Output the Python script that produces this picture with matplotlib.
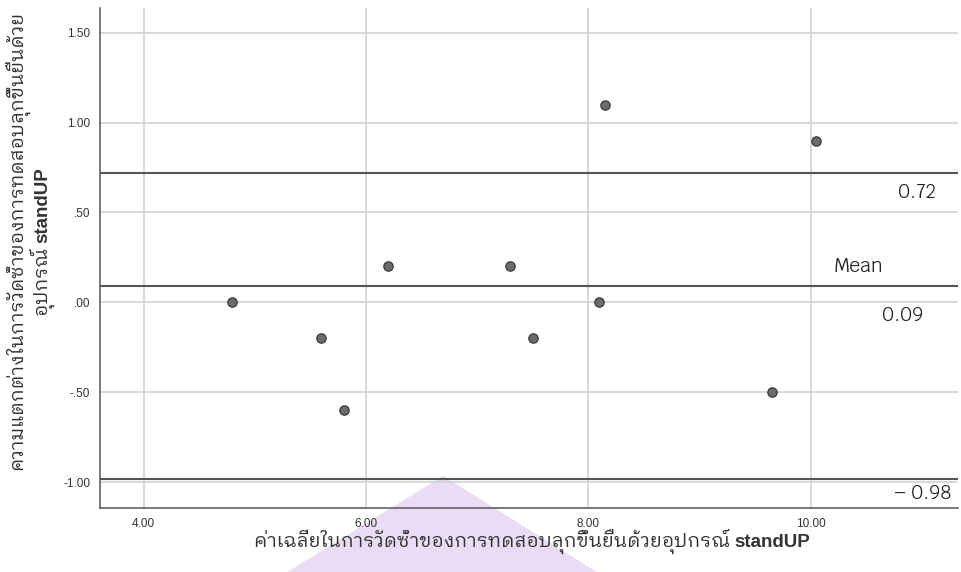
import matplotlib
matplotlib.use("Agg")
import matplotlib.pyplot as plt
from matplotlib.patches import Polygon

# Bland-Altman data
mean_vals = [4.80, 5.60, 5.80, 6.20, 7.30, 7.50, 8.10, 8.15, 10.05, 9.65]
diff_vals = [0.00, -0.20, -0.60, 0.20, 0.20, -0.20, 0.00, 1.10, 0.90, -0.50]
mean_diff = 0.09
upper_loa = 0.72
lower_loa = -0.98

x_ticks = [4, 6, 8, 10]
y_ticks = [-1.0, -0.5, 0.0, 0.5, 1.0, 1.5]
y_ticklabels = ["-1.00", "-.50", ".00", ".50", "1.00", "1.50"]

x_label_th = "ค่าเฉลี่ยในการวัดซ้ำของการทดสอบลุกขึ้นยืนด้วยอุปกรณ์ "
y_label_th1 = "ความแตกต่างในการวัดซ้ำของการทดสอบลุกขึ้นยืนด้วย"
y_label_th2 = "อุปกรณ์ "
bold_part = "standUP"

thai_font = ["IBM Plex Sans Thai Looped", "DejaVu Sans"]
note_font = ["Krub", "DejaVu Sans"]

fig = plt.figure(figsize=(9.61, 5.72), dpi=100)
ax = fig.add_axes([0.1041, 0.1119, 0.8928, 0.8741])
ax.set_facecolor("none")

# faint watermark of the source document
wm = Polygon([(0.299, 0.0), (0.461, 0.168), (0.621, 0.0)], closed=True,
             transform=fig.transFigure, facecolor="#e9dcf4", edgecolor="none", zorder=-5)
fig.patches.append(wm)

ax.grid(True, color="#d2d2d2", linewidth=1.2)
ax.set_axisbelow(True)

for v in [upper_loa, mean_diff, lower_loa]:
    ax.axhline(v, color="#555555", linewidth=1.5, zorder=2)

ax.scatter(mean_vals, diff_vals, s=45, facecolor="#6b6b6b", edgecolor="#3a3a3a",
           linewidth=0.9, zorder=3)

ax.set_xlim(3.609, 11.325)
ax.set_ylim(-1.143, 1.637)
ax.set_xticks(x_ticks)
ax.set_xticklabels(["%.2f" % t for t in x_ticks])
ax.set_yticks(y_ticks)
ax.set_yticklabels(y_ticklabels)
ax.tick_params(length=0, labelsize=8.5, colors="#333333", pad=7)
for lab in ax.get_xticklabels() + ax.get_yticklabels():
    lab.set_family(["Liberation Sans", "DejaVu Sans"])

for s in ["top", "right"]:
    ax.spines[s].set_visible(False)
for s in ["left", "bottom"]:
    ax.spines[s].set_color("#555555")
    ax.spines[s].set_linewidth(1.1)

# value labels for the lines
ax.text(10.96, upper_loa - 0.11, "%.2f" % upper_loa, family=note_font, fontsize=14,
        ha="center", va="center", color="#222222")
ax.text(10.43, mean_diff + 0.11, "Mean", family=note_font, fontsize=14,
        ha="center", va="center", color="#222222")
ax.text(10.83, mean_diff - 0.165, "%.2f" % mean_diff, family=note_font, fontsize=14,
        ha="center", va="center", color="#222222")
ax.text(11.01, lower_loa - 0.085, "– %.2f" % abs(lower_loa), family=note_font, fontsize=14,
        ha="center", va="center", color="#222222")

# axis labels: Thai text plus a bold Latin word
th_kw = dict(family=thai_font, fontsize=13.8, color="#333333")
bd_kw = dict(family=["Liberation Sans"], weight="bold", fontsize=13.5, color="#333333")
xa = fig.text(0, 0.044, x_label_th, va="baseline", **th_kw)
xb = fig.text(0, 0.044, bold_part, va="baseline", **bd_kw)
ya1 = fig.text(0.0240, 0.579, y_label_th1, rotation=90, rotation_mode="anchor",
               ha="center", va="baseline", **th_kw)
ya2 = fig.text(0.0495, 0, y_label_th2, rotation=90, rotation_mode="anchor",
               ha="left", va="baseline", **th_kw)
yb2 = fig.text(0.0495, 0, bold_part, rotation=90, rotation_mode="anchor",
               ha="left", va="baseline", **bd_kw)

fig.canvas.draw()
r = fig.canvas.get_renderer()
W, H = fig.bbox.width, fig.bbox.height
wa = xa.get_window_extent(r).width / W
wb = xb.get_window_extent(r).width / W
x0 = 0.5536 - (wa + wb) / 2
xa.set_x(x0)
xb.set_x(x0 + wa)
ha_ = ya2.get_window_extent(r).height / H
hb_ = yb2.get_window_extent(r).height / H
y0 = 0.577 - (ha_ + hb_) / 2
ya2.set_y(y0)
yb2.set_y(y0 + ha_)

fig.savefig("out.png", dpi=100)
